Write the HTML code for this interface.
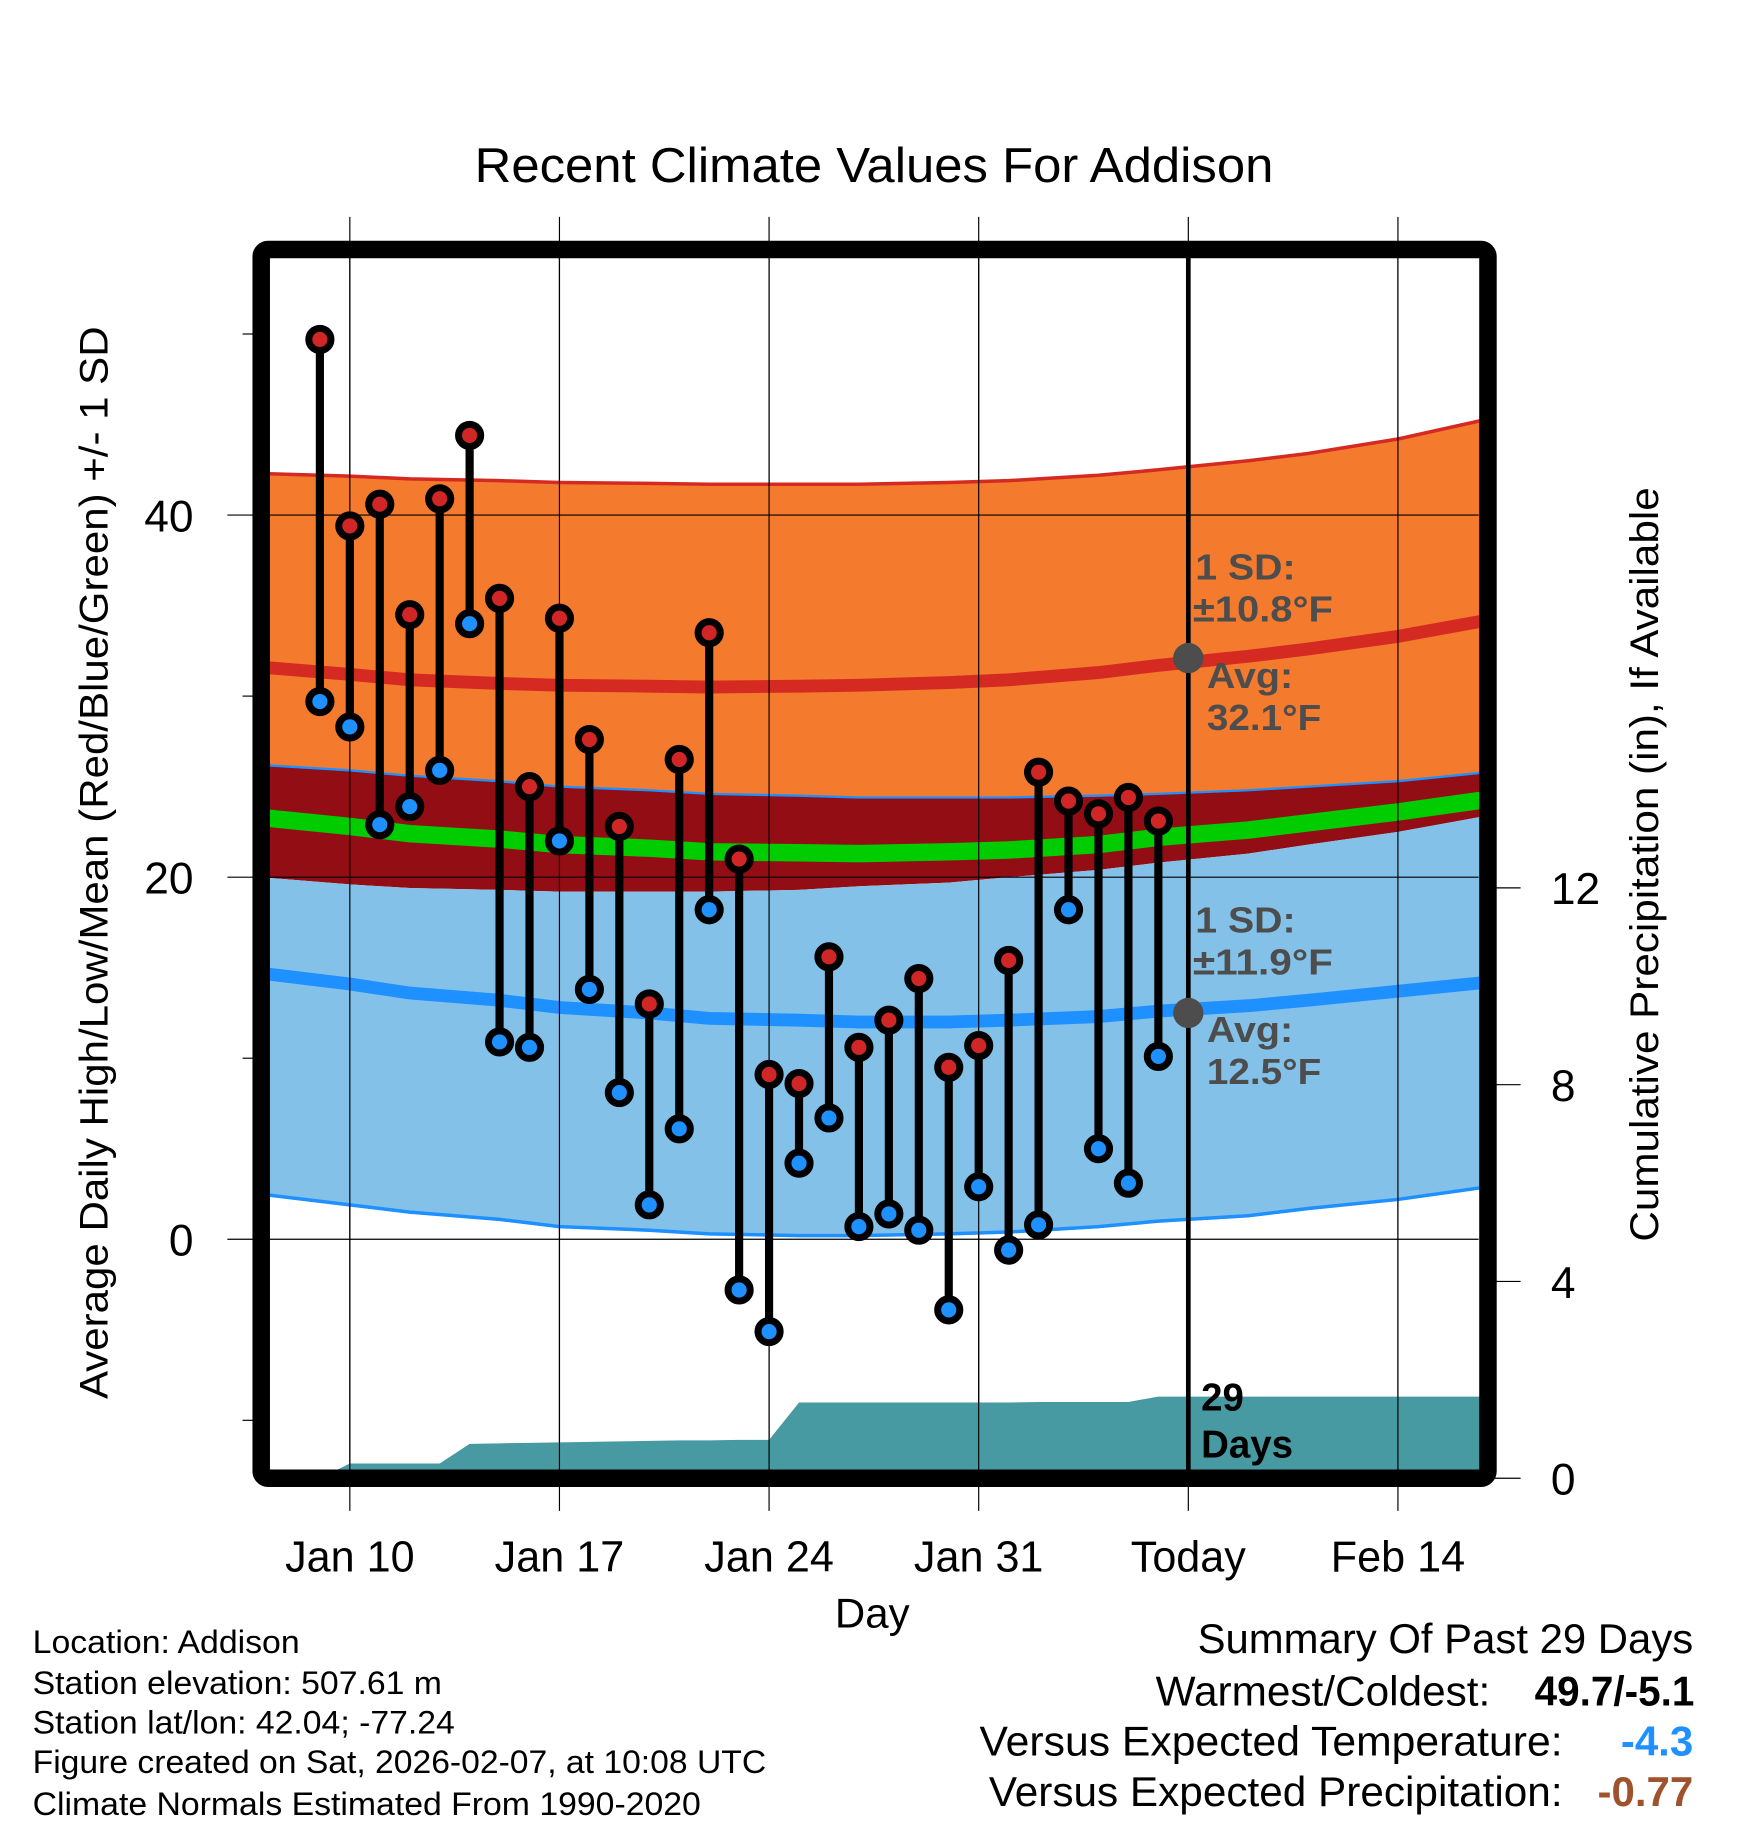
<!DOCTYPE html>
<html><head><meta charset="utf-8"><style>
html,body{margin:0;padding:0;background:#fff}
svg{display:block;font-family:"Liberation Sans",Arial,sans-serif}
</style></head><body>
<svg id="chart" width="1748" height="1828" viewBox="0 0 1499 1568" preserveAspectRatio="none" xmlns="http://www.w3.org/2000/svg">
<defs><clipPath id="plotclip"><rect x="231" y="221" width="1038" height="1040"/></clipPath></defs>
<text x="407" y="156" font-size="42" textLength="685" lengthAdjust="spacingAndGlyphs">Recent Climate Values For Addison</text>
<g id="grid"></g>
<g id="bands" clip-path="url(#plotclip)"></g>
<g id="precip" clip-path="url(#plotclip)"></g>
<g id="gridover"></g>
<g id="marks"></g>
<g id="annot"></g>
<rect x="224" y="214" width="1052" height="1054" rx="6" fill="none" stroke="#000" stroke-width="15"/>
<g id="axes"></g>
<text transform="translate(92,1200) rotate(-90)" font-size="34" textLength="920" lengthAdjust="spacingAndGlyphs">Average Daily High/Low/Mean (Red/Blue/Green) +/- 1 SD</text>
<text transform="translate(1422,1065) rotate(-90)" font-size="34" textLength="647" lengthAdjust="spacingAndGlyphs">Cumulative Precipitation (in), If Available</text>
<text x="748" y="1396" font-size="36" text-anchor="middle">Day</text>
<g font-size="28">
<text x="28" y="1418" textLength="229" lengthAdjust="spacingAndGlyphs">Location: Addison</text>
<text x="28" y="1453" textLength="351" lengthAdjust="spacingAndGlyphs">Station elevation: 507.61 m</text>
<text x="28" y="1487" textLength="362" lengthAdjust="spacingAndGlyphs">Station lat/lon: 42.04; -77.24</text>
<text x="28" y="1521" textLength="629" lengthAdjust="spacingAndGlyphs">Figure created on Sat, 2026-02-07, at 10:08 UTC</text>
<text x="28" y="1557" textLength="573" lengthAdjust="spacingAndGlyphs">Climate Normals Estimated From 1990-2020</text>
</g>
<g font-size="36">
<text x="1027" y="1418" textLength="425" lengthAdjust="spacingAndGlyphs">Summary Of Past 29 Days</text>
<text x="991" y="1463" textLength="287" lengthAdjust="spacingAndGlyphs">Warmest/Coldest:</text>
<text x="1316" y="1463" font-weight="bold" textLength="137" lengthAdjust="spacingAndGlyphs">49.7/-5.1</text>
<text x="840" y="1506" textLength="500" lengthAdjust="spacingAndGlyphs">Versus Expected Temperature:</text>
<text x="1452" y="1506" text-anchor="end" font-weight="bold" fill="#1e90ff">-4.3</text>
<text x="848" y="1549" textLength="492" lengthAdjust="spacingAndGlyphs">Versus Expected Precipitation:</text>
<text x="1452" y="1549" text-anchor="end" font-weight="bold" fill="#a0522d">-0.77</text>
</g>
</svg>
<script>
// ---- data ----
const obsDays = [-1,0,1,2,3,4,5,6,7,8,9,10,11,12,13,14,15,16,17,18,19,20,21,22,23,24,25,26,27]; // days from Jan 10
const highs = [49.7,39.4,40.6,34.5,40.9,44.4,35.4,25.0,34.3,27.6,22.8,13.0,26.5,33.5,21.0,9.1,8.6,15.6,10.6,12.1,14.4,9.5,10.7,15.4,25.8,24.2,23.5,24.4,23.1];
const lows = [29.7,28.3,22.9,23.9,25.9,34.0,10.9,10.6,22.0,13.8,8.1,1.9,6.1,18.2,-2.8,-5.1,4.2,6.7,0.7,1.4,0.5,-3.9,2.9,-0.6,0.8,18.2,5.0,3.1,10.1];
const precipCum = [0,0.3,0.3,0.3,0.3,0.7,0.71,0.72,0.73,0.74,0.75,0.76,0.77,0.77,0.78,0.78,1.54,1.54,1.54,1.54,1.54,1.54,1.54,1.54,1.55,1.55,1.55,1.55,1.66];
const normalDays = [-3,0,2,5,7,10,12,15,17,20,22,25,27,30,32,35,38];
const highUpper = [42.3,42.15,42.0,41.9,41.8,41.75,41.7,41.7,41.7,41.8,41.9,42.2,42.5,43.0,43.4,44.2,45.3];
const highMean = [31.6,31.2,30.9,30.7,30.6,30.55,30.5,30.55,30.6,30.75,30.9,31.3,31.7,32.2,32.6,33.3,34.2];
const highLower = [26.2,25.9,25.6,25.3,25.0,24.8,24.6,24.5,24.4,24.4,24.4,24.5,24.6,24.8,25.0,25.3,25.8];
const meanNorm = [23.3,22.8,22.4,22.1,21.8,21.6,21.4,21.35,21.3,21.4,21.5,21.8,22.2,22.6,23.0,23.6,24.3];
const lowUpper = [20.0,19.6,19.4,19.3,19.2,19.2,19.2,19.3,19.5,19.7,20.0,20.4,20.8,21.3,21.8,22.5,23.4];
const lowMean = [14.7,14.1,13.6,13.2,12.8,12.5,12.2,12.1,12.0,12.0,12.1,12.3,12.6,12.9,13.2,13.7,14.2];
const lowLower = [2.5,1.9,1.5,1.1,0.7,0.5,0.3,0.2,0.2,0.3,0.4,0.7,1.0,1.3,1.7,2.2,2.9];
const xTickDays = [0,7,14,21,28,35];
const xTickLabels = ["Jan 10","Jan 17","Jan 24","Jan 31","Today","Feb 14"];
const yTicks = [0,20,40];
const yMinor = [-10,10,30,50];
const y2Ticks = [0,4,8,12];
const todayDay = 28;

// ---- scales ----
const X = d => 300 + d*25.68;
const Y = v => 1063 - v*15.53;
const P = p => 1268 - p*42.2;
const NS = "http://www.w3.org/2000/svg";
function mk(parent, tag, attrs){const e=document.createElementNS(NS,tag);for(const k in attrs)e.setAttribute(k,attrs[k]);parent.appendChild(e);return e;}
const $ = id => document.getElementById(id);

const grid=$('grid'), gov=$('gridover'), axes=$('axes');
xTickDays.forEach((d,i)=>{
  const l=mk(grid,'line',{x1:X(d),x2:X(d),y1:186,y2:1296,stroke:'#000','stroke-width':1});
  
  
  const l2=mk(gov,'line',{x1:X(d),x2:X(d),y1:221,y2:1261,stroke:'#000','stroke-width':i==4?4:1});
  
  
  const t=mk(axes,'text',{x:X(d),y:1348,'font-size':37,'text-anchor':'middle'});
  t.textContent=xTickLabels[i];
  
  
});
yTicks.forEach(v=>{
  const l=mk(gov,'line',{x1:195,x2:1268,y1:Y(v),y2:Y(v),stroke:'#000','stroke-width':1});
  
  
  const t=mk(axes,'text',{x:166,y:Y(v)+14,'font-size':38,'text-anchor':'end'});
  t.textContent=v;
  
  
});
yMinor.forEach(v=>{
  const l=mk(axes,'line',{x1:208,x2:220,y1:Y(v),y2:Y(v),stroke:'#000','stroke-width':1});
  
  
});
y2Ticks.forEach(p=>{
  const l=mk(axes,'line',{x1:1282,x2:1304,y1:P(p),y2:P(p),stroke:'#000','stroke-width':1});
  
  
  const t=mk(axes,'text',{x:1330,y:P(p)+14,'font-size':38});
  t.textContent=p;
  
  
});

const bands=$('bands');
const pts=(arr)=>normalDays.map((d,i)=>X(d)+','+Y(arr[i]));
function area(top,bot,fill,name){
  const a=pts(top).concat(pts(bot).reverse());
  const e=mk(bands,'polygon',{points:a.join(' '),fill:fill});
  
  
}
function line(arr,col,w,name){
  const e=mk(bands,'polyline',{points:pts(arr).join(' '),fill:'none',stroke:col,'stroke-width':w});
  
  
}
area(highUpper,highLower,'#f47a2e','high-sd-band');
area(highLower,lowUpper,'#930d15','between-band');
area(lowUpper,lowLower,'#83c1e8','low-sd-band');
line(highUpper,'#d42a22',3,'high-upper-line');
line(highLower,'#1e90ff',2,'high-lower-line');
line(lowLower,'#1e90ff',3,'low-lower-line');
line(meanNorm,'#00cc00',15,'mean-normal-line');
line(highMean,'#d42a22',11,'high-normal-line');
line(lowMean,'#1e90ff',11,'low-normal-line');

const pr=$('precip');
let pp=[X(-3)+','+P(0)];
obsDays.forEach((d,i)=>pp.push(X(d)+','+P(precipCum[i])));
pp.push('1270,'+P(precipCum[precipCum.length-1]));
pp.push('1270,'+P(0));
const pe=mk(pr,'polygon',{points:pp.join(' '),fill:'#489aa2'});



const mg=$('marks');
obsDays.forEach((d,i)=>{
  const s=mk(mg,'line',{x1:X(d),x2:X(d),y1:Y(highs[i]),y2:Y(lows[i]),stroke:'#000','stroke-width':7});
  
  
});
obsDays.forEach((d,i)=>{
  const h=mk(mg,'circle',{cx:X(d),cy:Y(highs[i]),r:9.5,fill:'#d02626',stroke:'#000','stroke-width':6});
  
  
  const l=mk(mg,'circle',{cx:X(d),cy:Y(lows[i]),r:9.5,fill:'#1e90ff',stroke:'#000','stroke-width':6});
  
  
});

const an=$('annot');
const tx=X(todayDay);
function ann(x,y,txt,name,size,col,len){
  const a={x:x,y:y,'font-size':size||31,'font-weight':'bold',fill:col||'#4d4d4d'};
  if(len){a.textLength=len;a.lengthAdjust='spacingAndGlyphs';}
  const t=mk(an,'text',a);
  t.textContent=txt;
  
  
}
const d1=mk(an,'circle',{cx:tx,cy:Y(32.1),r:13,fill:'#4d4d4d'});


const d2=mk(an,'circle',{cx:tx,cy:Y(12.5),r:13,fill:'#4d4d4d'});


ann(1025,497,'1 SD:','high-sd-label',31,null,86);
ann(1023,533,'±10.8°F','high-sd-value',31,null,120);
ann(1035,590,'Avg:','high-avg-label',31,null,74);
ann(1035,626,'32.1°F','high-avg-value',31,null,98);
ann(1025,800,'1 SD:','low-sd-label',31,null,86);
ann(1023,836,'±11.9°F','low-sd-value',31,null,120);
ann(1035,894,'Avg:','low-avg-label',31,null,74);
ann(1035,930,'12.5°F','low-avg-value',31,null,98);
ann(1030,1210,'29','days-count',33,'#000');
ann(1030,1250,'Days','days-label',33,'#000');
</script>
</body></html>
